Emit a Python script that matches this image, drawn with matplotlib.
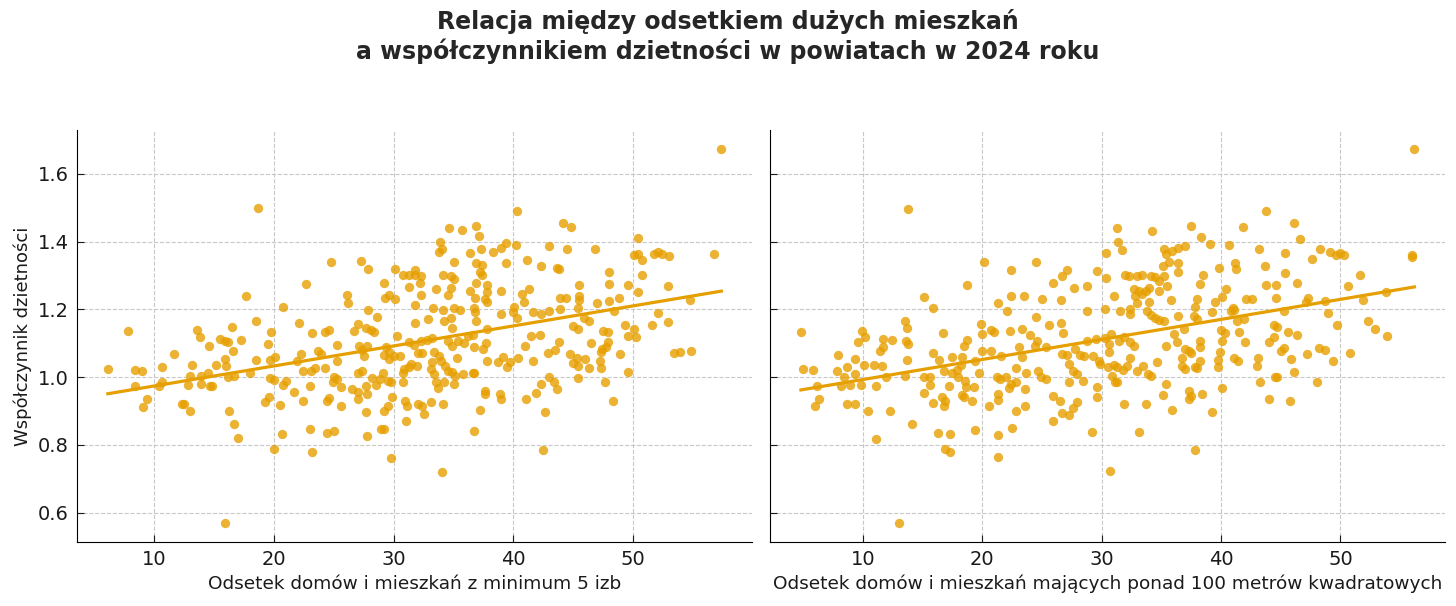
import numpy as np
import matplotlib
matplotlib.use("Agg")
import matplotlib.pyplot as plt

# --- dane (x = odsetek, y = współczynnik dzietności) ---
# lewy panel: odsetek domów i mieszkań z minimum 5 izb
punkty_izby = [
    (18.7, 1.50), (7.86, 1.136), (24.8, 1.34), (27.3, 1.343), (27.9, 1.319), (30.1, 1.32), (30.8, 1.30),
    (31.3, 1.30), (31.8, 1.30), (31.8, 1.316), (29.2, 1.279), (22.7, 1.274), (31.3, 1.266), (17.7, 1.238),
    (26.1, 1.243), (26.2, 1.22), (29.6, 1.242), (29.3, 1.232), (30.1, 1.229), (31.8, 1.214), (20.75, 1.207),
    (27.9, 1.198), (28.6, 1.178), (18.5, 1.165), (22.1, 1.159), (13.6, 1.14), (16.5, 1.147), (27.0, 1.157),
    (26.7, 1.136), (27.7, 1.144), (28.1, 1.138), (28.4, 1.132), (23.2, 1.13), (24.3, 1.132), (24.6, 1.14),
    (19.8, 1.132), (30.3, 1.12), (31.8, 1.16),
    (57.35, 1.674), (40.3, 1.49), (44.1, 1.455), (44.8, 1.442), (34.6, 1.441), (35.7, 1.433), (36.85, 1.447),
    (37.1, 1.415), (50.4, 1.409), (33.9, 1.40), (33.8, 1.37), (34.0, 1.378), (39.4, 1.395), (40.2, 1.39),
    (39.0, 1.38), (38.3, 1.37), (37.3, 1.377), (36.4, 1.365), (43.0, 1.388), (44.5, 1.378), (46.8, 1.378),
    (50.1, 1.36), (50.4, 1.364), (50.7, 1.346), (51.7, 1.362), (52.1, 1.368), (52.4, 1.364), (53.0, 1.356),
    (56.7, 1.362), (35.0, 1.339), (36.9, 1.336), (37.35, 1.331), (39.4, 1.338), (41.1, 1.345), (42.3, 1.328),
    (43.6, 1.323), (43.8, 1.318), (48.0, 1.309), (50.75, 1.301), (32.25, 1.297), (34.1, 1.30), (34.8, 1.298),
    (35.0, 1.29), (37.2, 1.311), (37.35, 1.30), (32.2, 1.277), (33.5, 1.261), (36.85, 1.277), (37.8, 1.272),
    (37.8, 1.252), (36.35, 1.255), (39.0, 1.254), (34.8, 1.262), (34.5, 1.242), (32.25, 1.242), (36.8, 1.232),
    (37.8, 1.222), (37.6, 1.229), (33.3, 1.203), (34.1, 1.199), (35.0, 1.203), (35.5, 1.198), (36.7, 1.203),
    (45.5, 1.272), (48.0, 1.276), (49.6, 1.272), (50.4, 1.252), (52.9, 1.268), (40.7, 1.245), (41.3, 1.259),
    (40.9, 1.222), (40.05, 1.208), (40.0, 1.193), (43.9, 1.233), (44.4, 1.233), (45.5, 1.238), (45.5, 1.228),
    (47.0, 1.218), (48.0, 1.223), (48.8, 1.233), (54.7, 1.228), (45.4, 1.203), (43.9, 1.201), (43.0, 1.195),
    (42.3, 1.185), (41.6, 1.191), (48.4, 1.195), (39.0, 1.186), (40.3, 1.173), (36.8, 1.193), (36.85, 1.166),
    (34.75, 1.174), (34.2, 1.166), (32.9, 1.172), (34.9, 1.146), (37.8, 1.143), (45.9, 1.173), (46.3, 1.164),
    (45.0, 1.15), (45.4, 1.142), (49.3, 1.154), (50.1, 1.141), (51.6, 1.154), (52.1, 1.189), (52.9, 1.163),
    (47.5, 1.136), (47.85, 1.133), (41.5, 1.122), (42.2, 1.125), (49.55, 1.12), (50.25, 1.117),
    (13.8, 1.118), (15.5, 1.112), (15.9, 1.105), (16.2, 1.104), (17.3, 1.11), (14.6, 1.092), (19.5, 1.097),
    (11.7, 1.067), (6.15, 1.025), (8.4, 1.022), (9.0, 1.017), (10.7, 1.029), (13.2, 1.037), (15.2, 1.037),
    (15.9, 1.053), (16.05, 1.033), (16.6, 1.077), (18.5, 1.051), (19.7, 1.051), (20.1, 1.06), (21.95, 1.046),
    (22.3, 1.068), (18.0, 1.012), (13.0, 1.004), (13.95, 1.004), (14.5, 1.011), (16.2, 0.999), (16.7, 1.002),
    (8.4, 0.974), (10.45, 0.974), (10.7, 0.986), (12.8, 0.977), (13.9, 0.978), (14.65, 0.974), (14.85, 0.974),
    (19.7, 0.998), (20.0, 0.992), (21.05, 0.989), (20.8, 0.977), (21.7, 0.955), (9.4, 0.935), (9.1, 0.913),
    (12.3, 0.92), (12.5, 0.919), (13.0, 0.90), (16.3, 0.90), (16.7, 0.862), (17.0, 0.819), (19.3, 0.925),
    (19.6, 0.942), (20.5, 0.917), (20.7, 0.832), (20.0, 0.787), (15.9, 0.569), (34.0, 0.721),
    (25.3, 1.095), (23.7, 1.078), (23.9, 1.068), (22.4, 1.019), (23.1, 1.019), (23.4, 1.026), (24.3, 1.027),
    (25.3, 1.048), (27.1, 1.093), (27.8, 1.091), (27.5, 1.063), (27.4, 1.081), (29.2, 1.065), (29.6, 1.073),
    (29.6, 1.053), (30.05, 1.063), (30.5, 1.063), (29.4, 1.088), (31.3, 1.104), (31.7, 1.095), (32.3, 1.107),
    (32.8, 1.11), (33.2, 1.114), (32.0, 1.07), (32.4, 1.07), (34.5, 1.107), (34.9, 1.093), (35.35, 1.107),
    (35.85, 1.10), (36.2, 1.122), (36.6, 1.124), (36.7, 1.088), (37.5, 1.083), (37.7, 1.10),
    (31.45, 1.038), (31.95, 1.033), (30.9, 1.024), (33.2, 1.043), (33.4, 1.073), (33.8, 1.063), (33.95, 1.048),
    (34.3, 1.033), (33.1, 1.024), (33.4, 1.009), (34.9, 1.014), (35.3, 1.055), (34.5, 1.019), (35.1, 1.004),
    (35.8, 1.009), (36.6, 1.012), (37.8, 1.046), (38.7, 1.045), (39.1, 1.058), (39.5, 1.029), (39.75, 1.044),
    (40.4, 1.055), (41.0, 1.091), (22.4, 0.93), (23.0, 0.974), (25.0, 0.999), (24.9, 0.984), (25.6, 0.972),
    (25.3, 0.994), (25.6, 0.915), (26.5, 0.964), (27.0, 1.012), (27.0, 0.955), (27.0, 0.935), (27.4, 1.019),
    (27.8, 0.95), (27.7, 0.974), (28.2, 0.996), (28.5, 0.977), (29.1, 1.012), (28.9, 0.994), (29.5, 0.987),
    (29.8, 0.984), (29.9, 0.94), (30.75, 1.012), (30.75, 0.984), (31.3, 1.029), (30.95, 0.93), (31.1, 0.915),
    (32.0, 0.92), (32.4, 0.915), (32.5, 0.89), (33.1, 0.927), (33.5, 0.984), (33.7, 0.969), (34.2, 0.986),
    (34.1, 0.92), (35.0, 0.979), (36.7, 1.011), (37.6, 0.96), (37.6, 0.95), (38.9, 0.95), (39.0, 0.935),
    (37.2, 0.903), (24.4, 0.93), (24.6, 0.937), (27.7, 0.896), (29.2, 0.9), (29.5, 0.915), (23.0, 0.846),
    (24.4, 0.836), (25.0, 0.84), (27.8, 0.827), (28.95, 0.848), (29.2, 0.848), (31.0, 0.871), (36.7, 0.84),
    (23.2, 0.779), (29.8, 0.762),
    (43.8, 1.103), (46.5, 1.10), (47.9, 1.103), (47.7, 1.088), (47.4, 1.083), (47.3, 1.073), (43.5, 1.081),
    (42.9, 1.071), (41.6, 1.048), (44.7, 1.068), (45.3, 1.055), (46.0, 1.053), (45.0, 1.04), (45.35, 1.033),
    (46.3, 1.028), (47.2, 1.048), (47.3, 1.027), (48.9, 1.067), (49.55, 1.014), (53.4, 1.07), (53.9, 1.075),
    (54.8, 1.077), (43.0, 1.001), (43.4, 0.984), (43.6, 0.966), (42.3, 0.979), (41.9, 0.953), (41.05, 0.935),
    (45.4, 0.997), (47.6, 0.984), (48.3, 0.929), (42.6, 0.896), (42.5, 0.785),
]

# prawy panel: odsetek domów i mieszkań powyżej 100 m2
punkty_metraz = [
    (13.77, 1.497), (20.1, 1.341), (18.7, 1.273), (15.1, 1.235), (15.9, 1.205), (21.3, 1.218), (4.8, 1.134),
    (13.5, 1.164), (13.7, 1.145), (9.9, 1.137), (10.2, 1.117), (9.6, 1.104), (11.7, 1.111), (11.7, 1.088),
    (11.45, 1.077), (12.45, 1.109), (13.6, 1.105), (13.8, 1.097), (16.7, 1.129), (18.7, 1.11), (18.5, 1.092),
    (19.9, 1.157), (20.0, 1.127), (20.7, 1.139), (21.0, 1.134), (7.9, 1.066), (9.3, 1.054), (4.95, 1.025),
    (5.8, 1.021), (7.85, 1.019), (8.7, 1.029), (9.3, 1.009), (8.4, 1.001), (8.15, 0.973), (8.9, 0.976),
    (9.8, 0.976), (6.15, 0.975), (6.35, 0.936), (6.0, 0.914), (8.7, 0.92), (9.35, 0.92), (10.1, 1.036),
    (10.9, 1.036), (11.6, 1.032), (11.9, 1.001), (11.1, 0.974), (10.4, 0.90), (12.3, 0.90), (13.7, 1.05),
    (13.5, 1.002), (15.9, 1.071), (16.4, 1.049), (15.1, 1.001), (15.6, 1.001), (15.6, 0.977), (15.1, 0.954),
    (15.9, 0.924), (16.6, 0.942), (16.9, 0.928), (16.75, 0.914), (16.75, 1.017), (17.45, 1.058), (17.45, 1.011),
    (18.3, 1.06), (18.2, 1.036), (17.9, 1.021), (17.2, 0.973), (18.0, 0.999), (18.55, 0.989), (18.6, 0.971),
    (19.3, 0.971), (18.3, 0.947), (18.5, 0.942), (19.1, 0.93), (19.4, 1.048), (20.0, 1.078), (20.7, 1.078),
    (19.7, 1.012), (21.2, 1.001), (20.6, 0.914), (21.3, 0.95), (14.1, 0.862), (11.1, 0.818), (16.3, 0.836),
    (17.25, 0.831), (19.4, 0.845), (16.9, 0.787), (17.3, 0.78), (21.3, 0.829), (21.3, 0.763), (13.0, 0.57),
    (31.3, 1.44), (34.2, 1.432), (37.5, 1.445), (38.3, 1.413), (39.1, 1.393), (31.4, 1.398), (31.7, 1.375),
    (30.4, 1.367), (24.5, 1.339), (22.4, 1.317), (27.1, 1.317), (26.7, 1.298), (29.6, 1.314), (30.4, 1.293),
    (25.9, 1.277), (27.7, 1.263), (28.8, 1.27), (35.2, 1.378), (35.35, 1.364), (35.85, 1.371), (36.4, 1.381),
    (37.0, 1.386), (35.1, 1.329), (35.6, 1.339), (36.4, 1.337), (36.4, 1.311), (31.95, 1.30), (32.3, 1.298),
    (33.0, 1.299), (33.4, 1.30), (34.1, 1.297), (34.5, 1.295), (35.2, 1.299), (34.8, 1.283), (35.5, 1.27),
    (32.7, 1.26), (33.1, 1.253), (33.7, 1.255), (34.0, 1.262), (34.8, 1.253), (31.0, 1.24), (32.8, 1.24),
    (33.4, 1.245), (33.95, 1.221), (35.8, 1.228), (33.0, 1.218), (22.4, 1.24), (23.5, 1.24), (25.0, 1.231),
    (26.6, 1.228), (22.1, 1.196), (28.8, 1.196), (30.3, 1.201), (31.5, 1.196), (32.4, 1.201), (32.4, 1.186),
    (33.8, 1.196), (34.1, 1.184), (34.5, 1.174), (34.8, 1.168), (35.2, 1.166), (36.4, 1.181), (38.0, 1.23),
    (37.8, 1.206), (37.7, 1.181), (38.0, 1.171), (38.5, 1.30), (38.25, 1.275), (39.5, 1.221), (39.25, 1.191),
    (39.8, 1.322), (24.5, 1.176), (25.6, 1.155), (26.6, 1.159), (26.75, 1.129), (22.3, 1.135), (23.3, 1.142),
    (24.0, 1.124), (24.6, 1.107), (24.4, 1.093), (25.3, 1.09), (21.6, 1.061), (23.1, 1.088), (23.3, 1.06),
    (26.7, 1.068), (27.1, 1.066), (27.8, 1.083), (28.2, 1.066), (28.5, 1.063), (27.3, 1.038), (27.6, 1.019),
    (27.9, 1.009), (28.8, 1.107), (29.5, 1.112), (29.3, 1.061), (29.8, 1.048), (29.9, 1.038), (30.3, 1.115),
    (30.75, 1.127), (30.6, 1.098), (30.6, 1.073), (31.45, 1.107), (31.9, 1.117), (32.4, 1.102), (32.7, 1.093),
    (32.4, 1.056), (32.1, 1.033), (31.8, 1.02), (30.5, 1.029), (31.0, 1.036), (31.3, 1.031), (30.9, 1.004),
    (31.1, 0.984), (31.25, 0.984), (33.0, 1.019), (33.5, 1.033), (33.9, 1.009), (34.1, 1.004), (34.6, 1.044),
    (35.35, 1.092), (36.1, 1.127), (36.3, 1.102), (36.9, 1.143), (37.0, 1.083), (36.7, 1.056), (36.7, 1.033),
    (37.0, 1.024), (38.2, 1.107), (38.2, 1.088), (38.2, 1.048), (37.85, 1.031), (38.0, 1.027), (37.3, 1.078),
    (37.45, 1.07), (40.0, 1.139), (40.1, 1.107), (39.9, 1.073), (39.75, 1.051), (39.75, 1.029), (21.5, 0.994),
    (21.95, 0.999), (22.4, 0.979), (22.8, 0.984), (22.25, 0.969), (22.8, 1.027), (23.7, 1.011), (24.7, 1.019),
    (24.9, 1.001), (25.3, 0.994), (27.3, 0.984), (28.4, 0.987), (29.6, 0.971), (29.6, 0.942), (21.3, 0.933),
    (23.6, 0.964), (23.6, 0.914), (22.8, 0.90), (25.9, 0.945), (26.5, 0.928), (25.9, 0.871), (26.7, 0.895),
    (27.3, 0.889), (27.6, 0.91), (27.9, 0.925), (22.5, 0.851), (29.2, 0.839), (31.9, 0.92), (33.7, 0.92),
    (33.1, 0.839), (35.4, 0.979), (35.1, 0.948), (35.9, 0.903), (37.35, 0.96), (37.5, 0.945), (37.3, 0.935),
    (38.4, 0.95), (39.25, 0.896), (40.1, 0.967), (37.8, 0.785), (30.7, 0.723),
    (56.2, 1.674), (43.8, 1.491), (46.1, 1.455), (41.8, 1.442), (46.65, 1.408), (40.7, 1.39), (43.2, 1.377),
    (45.35, 1.365), (48.3, 1.377), (49.1, 1.368), (49.6, 1.361), (50.0, 1.366), (50.3, 1.359), (47.6, 1.347),
    (56.0, 1.36), (56.0, 1.355), (41.2, 1.338), (41.25, 1.319), (43.7, 1.327), (45.4, 1.308), (51.6, 1.301),
    (43.8, 1.272), (44.6, 1.272), (46.4, 1.277), (50.6, 1.269), (40.4, 1.259), (40.1, 1.237), (42.1, 1.23),
    (42.6, 1.23), (44.6, 1.233), (47.3, 1.234), (47.1, 1.221), (48.7, 1.223), (51.9, 1.227), (53.8, 1.252),
    (41.0, 1.203), (40.8, 1.195), (41.1, 1.198), (45.3, 1.196), (49.0, 1.19), (41.95, 1.171), (41.3, 1.164),
    (44.45, 1.154), (44.7, 1.149), (49.75, 1.154), (52.3, 1.164), (52.9, 1.141), (53.9, 1.12), (40.35, 1.129),
    (41.5, 1.134), (42.0, 1.102), (44.0, 1.104), (44.45, 1.119), (45.6, 1.132), (46.4, 1.124), (45.0, 1.077),
    (45.3, 1.087), (47.2, 1.068), (48.2, 1.087), (48.7, 1.08), (49.4, 1.048), (50.8, 1.072), (41.1, 1.057),
    (41.4, 1.047), (43.1, 1.057), (43.0, 1.033), (45.9, 1.053), (46.1, 1.016), (44.5, 1.001), (44.7, 1.001),
    (43.3, 0.984), (48.0, 0.984), (44.0, 0.936), (45.8, 0.93),
]

tytul = "Relacja między odsetkiem dużych mieszkań\na współczynnikiem dzietności w powiatach w 2024 roku"
etykiety_x = [
    "Odsetek domów i mieszkań z minimum 5 izb",
    "Odsetek domów i mieszkań mających ponad 100 metrów kwadratowych",
]
etykieta_y = "Współczynnik dzietności"

KOLOR = "#E69F00"

fig, osie = plt.subplots(1, 2, figsize=(14.56, 6.06), dpi=100, sharey=True)
fig.subplots_adjust(left=0.053, right=0.9925, bottom=0.106, top=0.7855, wspace=0.027)

for ax, punkty, opis in zip(osie, [punkty_izby, punkty_metraz], etykiety_x):
    dane = np.array(punkty)
    x, y = dane[:, 0], dane[:, 1]
    ax.scatter(x, y, s=45, color=KOLOR, alpha=0.8, linewidths=0, zorder=3)

    # prosta regresji liczona z punktów
    a, b = np.polyfit(x, y, 1)
    xs = np.array([x.min(), x.max()])
    ax.plot(xs, a * xs + b, color=KOLOR, lw=2.3, zorder=4)

    ax.set_xlabel(opis, fontsize=13.3, color="#1a1a1a", labelpad=4)
    ax.grid(True, linestyle="--", color="#c8c8c8", linewidth=0.8)
    ax.set_axisbelow(True)
    for s in ["top", "right"]:
        ax.spines[s].set_visible(False)
    ax.set_xticks([10, 20, 30, 40, 50])
    ax.tick_params(labelsize=14, colors="#1a1a1a", direction="in", length=5, pad=6)

osie[0].set_yticks([0.6, 0.8, 1.0, 1.2, 1.4, 1.6])
osie[0].set_ylabel(etykieta_y, fontsize=13, color="#1a1a1a")

fig.suptitle(tytul, fontsize=17, fontweight="bold", color="#262626", y=0.985)

plt.savefig("out.png", dpi=100)
